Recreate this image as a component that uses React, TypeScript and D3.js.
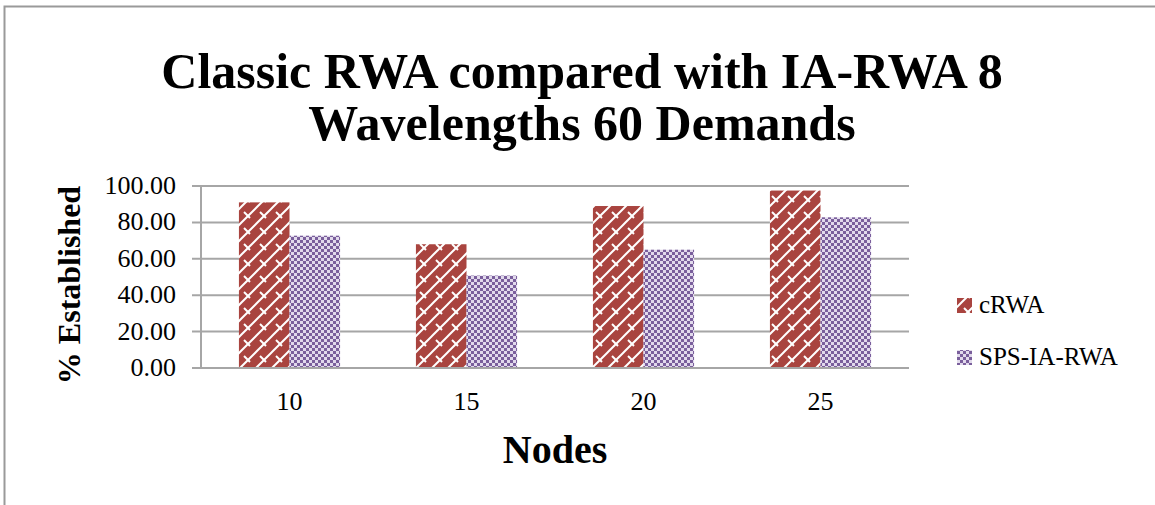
import React from "react";
import * as d3 from "d3";

const categories = ["10", "15", "20", "25"];
const seriesNames = ["cRWA", "SPS-IA-RWA"];
const cRWA = [91.0, 68.0, 89.0, 97.5];
const spsIaRwa = [72.7, 50.8, 65.0, 82.8];
const yTicks = [0, 20, 40, 60, 80, 100];

const W = 1155;
const H = 505;
const plot = { left: 201, right: 909, top: 186, bottom: 368 };

export default function App() {
  const x0 = d3.scaleBand().domain(categories).range([plot.left, plot.right]).paddingInner(0).paddingOuter(0);
  const groupW = x0.bandwidth();
  const barW = groupW / (2 + 1.5);
  const y = d3.scaleLinear().domain([0, 100]).range([plot.bottom, plot.top]);
  const values = [cRWA, spsIaRwa];
  const fills = ["url(#brick)", "url(#checker)"];
  const serif = "'Liberation Serif', serif";

  return (
    <svg width={W} height={H} style={{ position: "absolute", left: 0, top: 0, background: "#fff" }} fontFamily={serif}>
      <defs>
        <pattern id="brick" patternUnits="userSpaceOnUse" width="16" height="16">
          <rect width="16" height="16" fill="#A9443F" />
          <path d="M-2,18 L18,-2 M-2,2 L2,-2 M14,18 L18,14" stroke="#fff" strokeWidth="2" fill="none" />
          <path d="M4,4 L10,10" stroke="#fff" strokeWidth="2" fill="none" />
        </pattern>
        <pattern id="checker" patternUnits="userSpaceOnUse" width="6" height="6">
          <rect width="6" height="6" fill="#E2DAEC" />
          <rect x="0" y="0" width="3" height="3" fill="#7A5F9C" />
          <rect x="3" y="3" width="3" height="3" fill="#7A5F9C" />
        </pattern>
      </defs>
      <rect x={4.5} y={6.5} width={1300} height={700} fill="#fff" stroke="#9a9a9a" strokeWidth={2} />

      <text x={582} y={88} textAnchor="middle" fontSize={50} fontWeight="bold">Classic RWA compared with IA-RWA 8</text>
      <text x={582} y={140} textAnchor="middle" fontSize={50} fontWeight="bold">Wavelengths 60 Demands</text>

      {yTicks.map((t) => (
        <g key={t}>
          <line x1={plot.left - 9} x2={plot.right} y1={y(t)} y2={y(t)} stroke="#a6a6a6" strokeWidth={2} />
          <text x={176} y={y(t) + 8} textAnchor="end" fontSize={26}>{t.toFixed(2)}</text>
        </g>
      ))}
      <line x1={plot.left} x2={plot.left} y1={plot.top} y2={plot.bottom} stroke="#a6a6a6" strokeWidth={2} />

      {categories.map((c, i) => (
        <g key={c}>
          {values.map((vals, s) => {
            const bx = (x0(c) as number) + barW * 0.75 + s * barW;
            return (
              <rect key={s} x={bx} y={y(vals[i])} width={barW} height={plot.bottom - y(vals[i])} fill={fills[s]} />
            );
          })}
          <text x={(x0(c) as number) + groupW / 2} y={410} textAnchor="middle" fontSize={26}>{c}</text>
        </g>
      ))}
      <line x1={plot.left - 9} x2={plot.right} y1={plot.bottom} y2={plot.bottom} stroke="#a6a6a6" strokeWidth={2} />

      <text x={555} y={463} textAnchor="middle" fontSize={40} fontWeight="bold">Nodes</text>
      <text transform={`translate(80,${285}) rotate(-90)`} textAnchor="middle" fontSize={32} fontWeight="bold">% Established</text>

      {seriesNames.map((n, s) => (
        <g key={n}>
          <rect x={957} y={298 + s * 52} width={15} height={15} fill={fills[s]} />
          <text x={979} y={313 + s * 52} fontSize={25}>{n}</text>
        </g>
      ))}
    </svg>
  );
}
